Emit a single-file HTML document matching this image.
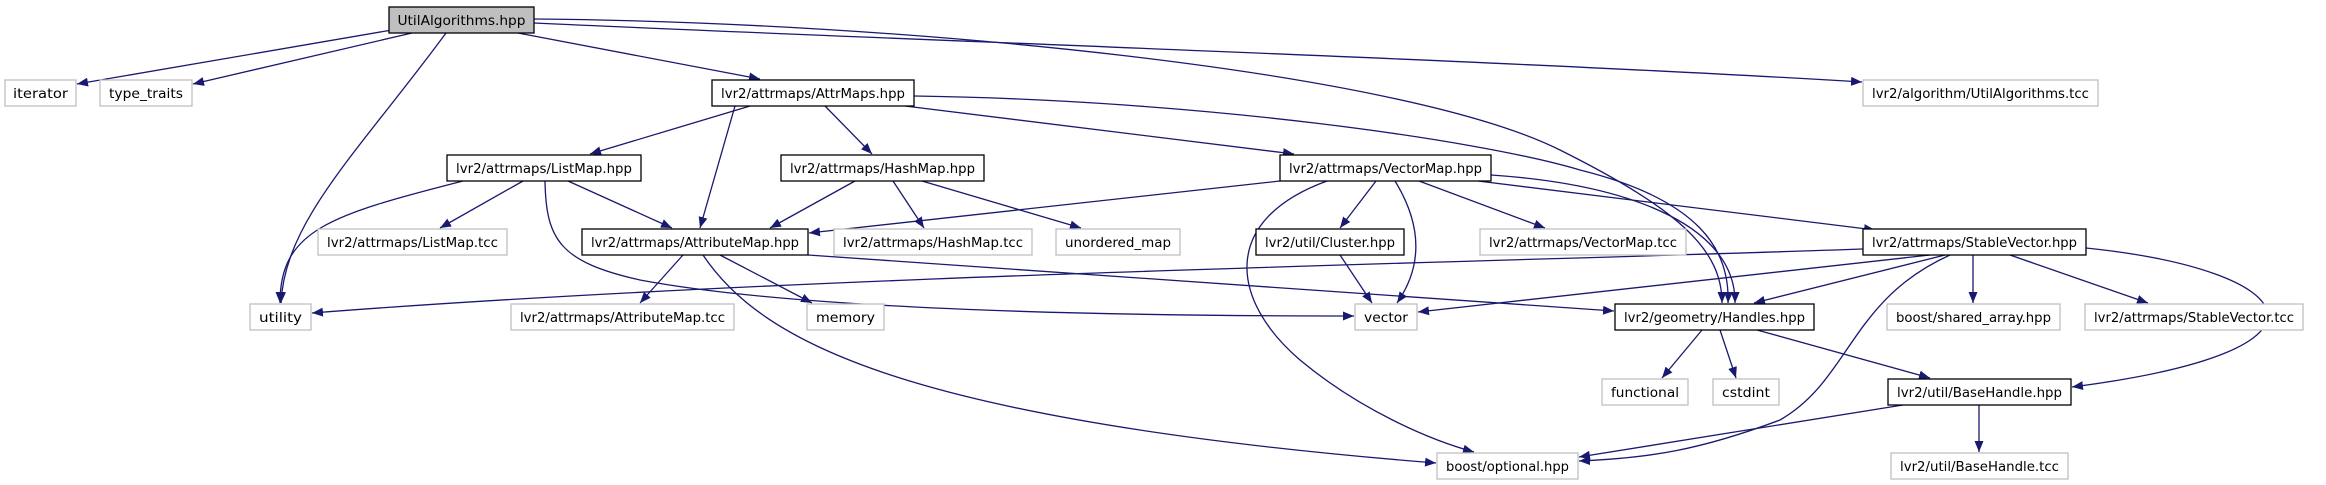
<!DOCTYPE html>
<html><head><meta charset="utf-8"><style>
html,body{margin:0;padding:0;background:#fff;}
svg{display:block;}
text{font-family:"DejaVu Sans Condensed","DejaVu Sans","Liberation Sans",sans-serif;font-size:13.5px;fill:#000;}
.e{fill:none;stroke:#191970;stroke-width:1.3;marker-end:url(#a);}
.nb{fill:#fff;stroke:#000;stroke-width:1.3;}
.ng{fill:#fff;stroke:#bfbfbf;stroke-width:1.3;}
</style></head><body>
<svg width="2326" height="485" viewBox="0 0 2326 485" xmlns="http://www.w3.org/2000/svg">
<defs><marker id="a" markerUnits="userSpaceOnUse" markerWidth="12" markerHeight="9" refX="11" refY="4.5" orient="auto"><path d="M0,0 L11,4.5 L0,9 z" fill="#191970"/></marker></defs>

<!-- edges -->
<path class="e" d="M392,30 L77,84"/>
<path class="e" d="M412,33 L193,84"/>
<path class="e" d="M446,33 C360,150 285,220 281,303"/>
<path class="e" d="M518,33 L760,79"/>
<path class="e" d="M534,19 C900,22 1400,70 1560,150 C1680,210 1722,250 1722,303"/>
<path class="e" d="M534,23 C900,40 1500,60 1862,82"/>
<path class="e" d="M750,106 L590,154"/>
<path class="e" d="M735,106 L700,228"/>
<path class="e" d="M825,106 L872,154"/>
<path class="e" d="M905,106 L1294,154"/>
<path class="e" d="M914,96 C1200,100 1480,140 1580,170 C1700,200 1730,250 1728,303"/>
<path class="e" d="M463,181 C330,215 280,230 280,303"/>
<path class="e" d="M523,181 L440,228"/>
<path class="e" d="M568,181 L672,228"/>
<path class="e" d="M545,181 C546,240 560,262 640,280 C800,310 1100,316 1354,316"/>
<path class="e" d="M855,181 L770,228"/>
<path class="e" d="M893,181 L924,228"/>
<path class="e" d="M922,181 L1081,228"/>
<path class="e" d="M1280,181 L809,233"/>
<path class="e" d="M1327,181 C1220,220 1230,300 1300,360 C1360,410 1430,440 1474,452"/>
<path class="e" d="M1376,181 L1340,228"/>
<path class="e" d="M1395,181 C1425,230 1420,270 1397,303"/>
<path class="e" d="M1419,181 L1545,228"/>
<path class="e" d="M1491,175 C1640,185 1736,230 1735,303"/>
<path class="e" d="M1478,181 L1875,230"/>
<path class="e" d="M683,255 L640,303"/>
<path class="e" d="M720,255 L812,303"/>
<path class="e" d="M703,255 C760,340 900,420 1436,463"/>
<path class="e" d="M808,255 L1614,311"/>
<path class="e" d="M1340,255 L1372,303"/>
<path class="e" d="M1863,249 C1500,262 800,275 312,313"/>
<path class="e" d="M1930,255 L1418,312"/>
<path class="e" d="M1945,255 L1754,303"/>
<path class="e" d="M1950,255 C1850,300 1850,380 1780,420 C1700,450 1650,458 1579,461"/>
<path class="e" d="M1973,255 L1973,303"/>
<path class="e" d="M2010,255 L2148,303"/>
<path class="e" d="M2086,248 C2300,270 2360,350 2072,387"/>
<path class="e" d="M1702,330 L1662,378"/>
<path class="e" d="M1720,330 L1736,378"/>
<path class="e" d="M1757,330 L1930,378"/>
<path class="e" d="M1903,405 L1579,457"/>
<path class="e" d="M1979,405 L1979,452"/>

<!-- nodes -->
<rect x="389" y="7" width="145" height="26" fill="#bfbfbf" stroke="#000" stroke-width="1.3"/><text x="461.5" y="25" text-anchor="middle" textLength="128" lengthAdjust="spacingAndGlyphs">UtilAlgorithms.hpp</text>
<rect class="ng" x="5" y="80" width="71" height="26"/><text x="40.5" y="98" text-anchor="middle" textLength="55" lengthAdjust="spacingAndGlyphs">iterator</text>
<rect class="ng" x="100" y="80" width="92" height="26"/><text x="146" y="98" text-anchor="middle" textLength="74" lengthAdjust="spacingAndGlyphs">type_traits</text>
<rect class="nb" x="712" y="80" width="202" height="26"/><text x="813" y="98" text-anchor="middle" textLength="184" lengthAdjust="spacingAndGlyphs">lvr2/attrmaps/AttrMaps.hpp</text>
<rect class="ng" x="1863" y="80" width="235" height="26"/><text x="1980.5" y="98" text-anchor="middle" textLength="217" lengthAdjust="spacingAndGlyphs">lvr2/algorithm/UtilAlgorithms.tcc</text>

<rect class="nb" x="447" y="155" width="194" height="26"/><text x="544" y="173" text-anchor="middle" textLength="176" lengthAdjust="spacingAndGlyphs">lvr2/attrmaps/ListMap.hpp</text>
<rect class="nb" x="781" y="155" width="203" height="26"/><text x="882.5" y="173" text-anchor="middle" textLength="185" lengthAdjust="spacingAndGlyphs">lvr2/attrmaps/HashMap.hpp</text>
<rect class="nb" x="1280" y="155" width="211" height="26"/><text x="1385.5" y="173" text-anchor="middle" textLength="193" lengthAdjust="spacingAndGlyphs">lvr2/attrmaps/VectorMap.hpp</text>

<rect class="ng" x="318" y="229" width="189" height="26"/><text x="412.5" y="247" text-anchor="middle" textLength="171" lengthAdjust="spacingAndGlyphs">lvr2/attrmaps/ListMap.tcc</text>
<rect class="nb" x="582" y="229" width="226" height="26"/><text x="695" y="247" text-anchor="middle" textLength="208" lengthAdjust="spacingAndGlyphs">lvr2/attrmaps/AttributeMap.hpp</text>
<rect class="ng" x="834" y="229" width="198" height="26"/><text x="933" y="247" text-anchor="middle" textLength="180" lengthAdjust="spacingAndGlyphs">lvr2/attrmaps/HashMap.tcc</text>
<rect class="ng" x="1056" y="229" width="124" height="26"/><text x="1118" y="247" text-anchor="middle" textLength="106" lengthAdjust="spacingAndGlyphs">unordered_map</text>
<rect class="nb" x="1256" y="229" width="148" height="26"/><text x="1330" y="247" text-anchor="middle" textLength="130" lengthAdjust="spacingAndGlyphs">lvr2/util/Cluster.hpp</text>
<rect class="ng" x="1480" y="229" width="206" height="26"/><text x="1583" y="247" text-anchor="middle" textLength="188" lengthAdjust="spacingAndGlyphs">lvr2/attrmaps/VectorMap.tcc</text>
<rect class="nb" x="1863" y="229" width="223" height="26"/><text x="1974.5" y="247" text-anchor="middle" textLength="205" lengthAdjust="spacingAndGlyphs">lvr2/attrmaps/StableVector.hpp</text>

<rect class="ng" x="250" y="304" width="61" height="26"/><text x="280.5" y="322" text-anchor="middle" textLength="43" lengthAdjust="spacingAndGlyphs">utility</text>
<rect class="ng" x="511" y="304" width="223" height="26"/><text x="622.5" y="322" text-anchor="middle" textLength="205" lengthAdjust="spacingAndGlyphs">lvr2/attrmaps/AttributeMap.tcc</text>
<rect class="ng" x="807" y="304" width="77" height="26"/><text x="845.5" y="322" text-anchor="middle" textLength="59" lengthAdjust="spacingAndGlyphs">memory</text>
<rect class="ng" x="1355" y="304" width="62" height="26"/><text x="1386" y="322" text-anchor="middle" textLength="44" lengthAdjust="spacingAndGlyphs">vector</text>
<rect class="nb" x="1615" y="304" width="199" height="26"/><text x="1714.5" y="322" text-anchor="middle" textLength="181" lengthAdjust="spacingAndGlyphs">lvr2/geometry/Handles.hpp</text>
<rect class="ng" x="1887" y="304" width="173" height="26"/><text x="1973.5" y="322" text-anchor="middle" textLength="155" lengthAdjust="spacingAndGlyphs">boost/shared_array.hpp</text>
<rect class="ng" x="2085" y="304" width="218" height="26"/><text x="2194" y="322" text-anchor="middle" textLength="200" lengthAdjust="spacingAndGlyphs">lvr2/attrmaps/StableVector.tcc</text>

<rect class="ng" x="1602" y="379" width="86" height="26"/><text x="1645" y="397" text-anchor="middle" textLength="68" lengthAdjust="spacingAndGlyphs">functional</text>
<rect class="ng" x="1713" y="379" width="66" height="26"/><text x="1746" y="397" text-anchor="middle" textLength="48" lengthAdjust="spacingAndGlyphs">cstdint</text>
<rect class="nb" x="1888" y="379" width="183" height="26"/><text x="1979.5" y="397" text-anchor="middle" textLength="165" lengthAdjust="spacingAndGlyphs">lvr2/util/BaseHandle.hpp</text>

<rect class="ng" x="1437" y="453" width="141" height="26"/><text x="1507.5" y="471" text-anchor="middle" textLength="123" lengthAdjust="spacingAndGlyphs">boost/optional.hpp</text>
<rect class="ng" x="1891" y="453" width="177" height="26"/><text x="1979.5" y="471" text-anchor="middle" textLength="159" lengthAdjust="spacingAndGlyphs">lvr2/util/BaseHandle.tcc</text>
</svg>
</body></html>
